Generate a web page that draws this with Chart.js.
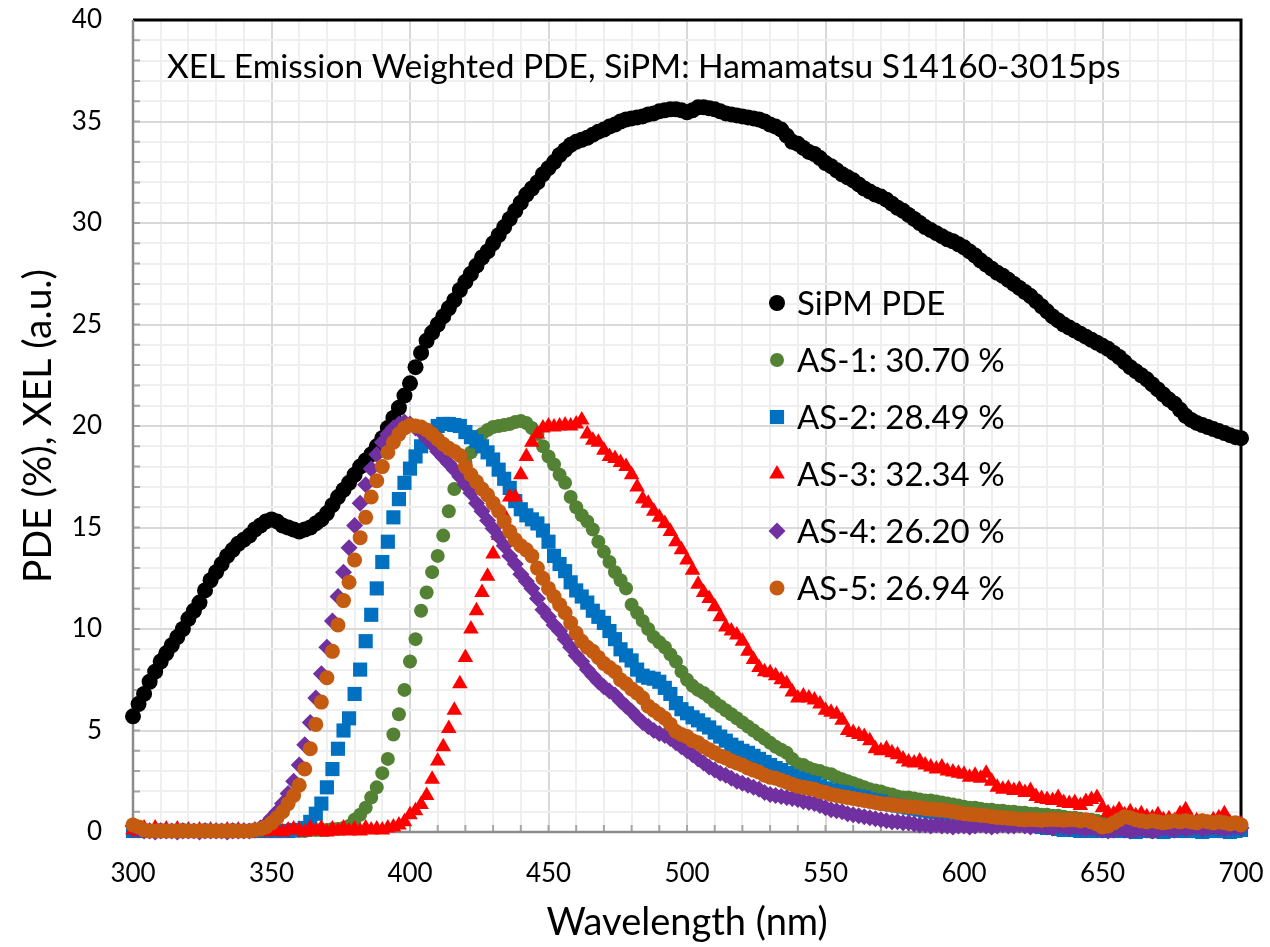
<!DOCTYPE html>
<html>
<head>
<meta charset="utf-8">
<title>XEL Emission Weighted PDE</title>
<script src="https://cdn.jsdelivr.net/npm/chart.js@4.4.0/dist/chart.umd.min.js"></script>
<style>
    html, body { margin: 0; padding: 0; background: #fff; }
    #wrap { width: 1270px; height: 947px; }
</style>
</head>
<body>
<div id="wrap"><canvas id="pdeChart" width="1270" height="947"></canvas></div>
<script>
// 波长网格 (nm)，每 2 nm 一个点
const wavelengths = [];
for (let nm = 300; nm <= 700; nm += 2) wavelengths.push(nm);

const xTickLabels = [300, 350, 400, 450, 500, 550, 600, 650, 700];
const yTickLabels = [0, 5, 10, 15, 20, 25, 30, 35, 40];

const seriesNames = ['SiPM PDE', 'AS-1: 30.70 %', 'AS-2: 28.49 %', 'AS-3: 32.34 %', 'AS-4: 26.20 %', 'AS-5: 26.94 %'];

// SiPM PDE (%)
const sipmPDE = [
    5.7, 6.3, 6.8, 7.4, 7.9, 8.4, 8.8, 9.2, 9.6, 10.0,
    10.5, 10.9, 11.3, 11.9, 12.4, 12.8, 13.2, 13.6, 13.9, 14.2,
    14.4, 14.6, 14.9, 15.1, 15.3, 15.4, 15.3, 15.1, 15.0, 14.9,
    14.8, 14.9, 15.0, 15.2, 15.4, 15.7, 16.1, 16.5, 16.85, 17.2,
    17.6, 18.0, 18.3, 18.6, 19.0, 19.4, 19.9, 20.4, 20.9, 21.5,
    22.1, 22.9, 23.6, 24.2, 24.6, 25.0, 25.4, 25.8, 26.2, 26.7,
    27.1, 27.5, 27.9, 28.3, 28.6, 29.0, 29.4, 29.8, 30.2, 30.6,
    31.0, 31.4, 31.7, 32.0, 32.4, 32.7, 33.0, 33.35, 33.6, 33.85,
    34.0, 34.1, 34.2, 34.35, 34.5, 34.6, 34.75, 34.85, 35.0, 35.1,
    35.15, 35.2, 35.25, 35.35, 35.4, 35.5, 35.55, 35.6, 35.6, 35.55,
    35.45, 35.55, 35.7, 35.7, 35.65, 35.6, 35.5, 35.4, 35.35, 35.3,
    35.25, 35.2, 35.15, 35.1, 35.0, 34.85, 34.75, 34.6, 34.3, 34.0,
    33.9, 33.7, 33.5, 33.4, 33.2, 32.95, 32.8, 32.6, 32.4, 32.25,
    32.1, 31.9, 31.7, 31.55, 31.4, 31.3, 31.15, 30.95, 30.75, 30.6,
    30.4, 30.2, 30.0, 29.8, 29.65, 29.5, 29.35, 29.2, 29.1, 28.95,
    28.8, 28.6, 28.4, 28.15, 27.95, 27.75, 27.55, 27.4, 27.2, 27.0,
    26.8, 26.6, 26.4, 26.15, 25.9, 25.65, 25.4, 25.2, 25.0, 24.85,
    24.7, 24.55, 24.4, 24.25, 24.1, 23.95, 23.8, 23.6, 23.4, 23.15,
    22.9, 22.7, 22.5, 22.3, 22.05, 21.8, 21.55, 21.3, 21.1, 20.8,
    20.5, 20.3, 20.15, 20.05, 19.95, 19.85, 19.75, 19.65, 19.55, 19.45,
    19.4
];

// AS-1 XEL (a.u.)
const as1 = [
    0.05, 0.05, 0.1, 0.05, 0.05, 0.1, 0.05, 0.05, 0.05, 0.1,
    0.05, 0.05, 0.05, 0.1, 0.05, 0.05, 0.05, 0.05, 0.1, 0.05,
    0.05, 0.05, 0.05, 0.05, 0.1, 0.05, 0.05, 0.05, 0.05, 0.05,
    0.05, 0.05, 0.1, 0.1, 0.1, 0.1, 0.15, 0.15, 0.2, 0.3,
    0.6, 0.85, 1.2, 1.7, 2.2, 2.9, 3.6, 4.8, 5.8, 7.0,
    8.4, 9.5, 10.9, 11.8, 12.8, 13.6, 14.6, 15.8, 16.9, 17.6,
    18.2, 18.7, 19.2, 19.6, 19.8, 19.95, 20.0, 20.05, 20.1, 20.2,
    20.25, 20.15, 19.9, 19.6, 19.0, 18.5, 18.1, 17.6, 17.2, 16.5,
    16.0, 15.6, 15.3, 14.9, 14.3, 13.8, 13.3, 12.8, 12.4, 12.0,
    11.2, 10.8, 10.4, 10.0, 9.6, 9.35, 9.1, 8.75, 8.4, 7.9,
    7.5, 7.2, 7.0, 6.85, 6.65, 6.4, 6.2, 6.0, 5.8, 5.6,
    5.4, 5.2, 5.0, 4.8, 4.6, 4.4, 4.2, 4.05, 3.9, 3.6,
    3.35, 3.3, 3.15, 3.05, 3.0, 2.9, 2.85, 2.7, 2.6, 2.5,
    2.4, 2.3, 2.2, 2.1, 2.05, 2.0, 1.9, 1.85, 1.75, 1.7,
    1.7, 1.65, 1.6, 1.55, 1.55, 1.5, 1.45, 1.4, 1.35, 1.3,
    1.25, 1.2, 1.2, 1.15, 1.1, 1.1, 1.05, 1.05, 1.0, 1.0,
    0.95, 0.95, 0.9, 0.9, 0.85, 0.85, 0.8, 0.8, 0.75, 0.7,
    0.7, 0.65, 0.6, 0.6, 0.55, 0.5, 0.45, 0.5, 0.4, 0.45,
    0.4, 0.35, 0.3, 0.1, 0.0, 0.3, 0.35, 0.3, 0.25, 0.3,
    0.3, 0.25, 0.3, 0.2, 0.25, 0.3, 0.2, 0.25, 0.3, 0.25,
    0.3
];

// AS-2 XEL (a.u.)
const as2 = [
    0.05, 0.05, 0.05, 0.05, 0.05, 0.05, 0.05, 0.05, 0.05, 0.05,
    0.05, 0.05, 0.05, 0.05, 0.05, 0.05, 0.05, 0.05, 0.05, 0.05,
    0.05, 0.05, 0.05, 0.05, 0.05, 0.05, 0.05, 0.05, 0.05, 0.1,
    0.1, 0.2, 0.5, 0.9, 1.4, 2.2, 3.1, 4.1, 5.0, 5.6,
    6.8, 8.0, 9.4, 10.7, 12.0, 13.3, 14.3, 15.5, 16.4, 17.2,
    17.9, 18.5, 19.0, 19.4, 19.7, 20.0, 20.1, 20.1, 20.05, 20.0,
    19.7, 19.45, 19.25, 19.0, 18.7, 18.35, 17.85, 17.4, 16.95, 16.3,
    15.9, 15.6, 15.4, 15.2, 14.85, 14.3, 13.6, 13.2, 12.85, 12.3,
    11.9, 11.6, 11.3, 10.9, 10.6, 10.3, 9.9, 9.5, 9.0, 8.7,
    8.45, 8.0, 7.7, 7.6, 7.55, 7.4, 7.1, 6.8, 6.35, 6.05,
    5.85, 5.65, 5.5, 5.3, 5.15, 4.9, 4.7, 4.5, 4.3, 4.15,
    4.0, 3.9, 3.75, 3.6, 3.45, 3.3, 3.15, 3.05, 2.9, 2.75,
    2.65, 2.55, 2.45, 2.4, 2.25, 2.15, 2.05, 2.0, 1.95, 1.9,
    1.8, 1.75, 1.7, 1.6, 1.55, 1.5, 1.4, 1.35, 1.3, 1.25,
    1.2, 1.15, 1.1, 1.05, 1.0, 1.0, 0.95, 0.95, 0.9, 0.9,
    0.85, 0.8, 0.8, 0.75, 0.7, 0.65, 0.6, 0.55, 0.5, 0.45,
    0.45, 0.4, 0.35, 0.3, 0.25, 0.2, 0.2, 0.15, 0.1, 0.1,
    0.1, 0.05, 0.1, 0.05, 0.05, 0.1, 0.05, 0.05, 0.1, 0.05,
    0.05, 0.0, 0.05, 0.1, 0.05, 0.05, 0.0, 0.05, 0.1, 0.05,
    0.05, 0.1, 0.05, 0.0, 0.05, 0.1, 0.05, 0.05, 0.0, 0.05,
    0.1
];

// AS-3 XEL (a.u.)
const as3 = [
    0.1, 0.0, 0.2, 0.05, 0.2, 0.05, 0.15, 0.0, 0.15, 0.05,
    0.1, 0.0, 0.1, 0.05, 0.1, 0.05, 0.0, 0.1, 0.05, 0.1,
    0.05, 0.0, 0.1, 0.05, 0.0, 0.1, 0.05, 0.0, 0.1, 0.15,
    0.1, 0.0, 0.2, 0.05, 0.2, 0.0, 0.15, 0.05, 0.2, 0.05,
    0.15, 0.05, 0.2, 0.1, 0.15, 0.1, 0.2, 0.25, 0.35, 0.5,
    0.85, 1.05, 1.35, 1.8, 2.6, 3.5, 4.2, 5.1, 6.0, 7.3,
    8.6, 10.0, 10.9, 11.8, 12.6, 13.7, 14.6, 15.6, 16.5, 16.5,
    17.6, 18.5, 19.2, 19.6, 19.9, 20.0, 19.95, 20.0, 20.05, 20.0,
    20.1, 20.3, 19.6, 19.3, 19.2, 18.8, 18.5, 18.4, 18.2, 18.0,
    17.6, 17.0, 16.4, 16.2, 15.8, 15.5, 15.2, 14.8, 14.3, 13.9,
    13.4, 12.9, 12.2, 11.8, 11.5, 11.1, 10.6, 10.1, 9.9, 9.7,
    9.4, 8.9, 8.5, 8.1, 7.9, 7.85, 7.7, 7.5, 7.3, 6.9,
    6.6, 6.7, 6.6, 6.5, 6.3, 6.0, 5.9, 5.8, 5.5, 5.0,
    4.9, 4.8, 4.7, 4.5, 4.1, 4.0, 4.1, 3.9, 3.8, 3.6,
    3.45, 3.4, 3.5, 3.3, 3.2, 3.1, 3.2, 3.0, 2.95, 2.9,
    2.85, 2.7, 2.8, 2.65, 2.9, 2.5, 2.2, 2.1, 2.15, 2.05,
    2.1, 1.95, 2.05, 1.75, 1.65, 1.6, 1.55, 1.7, 1.45, 1.4,
    1.45, 1.3, 1.5, 1.6, 1.7, 1.2, 0.95, 0.9, 1.1, 0.85,
    1.0, 0.8, 0.9, 0.75, 0.7, 0.85, 0.6, 0.65, 0.55, 0.9,
    1.1, 0.6, 0.55, 0.5, 0.45, 0.6, 0.7, 0.9, 0.45, 0.3,
    0.4
];

// AS-4 XEL (a.u.)
const as4 = [
    0.3, 0.15, 0.05, 0.05, 0.0, 0.05, 0.05, 0.05, 0.0, 0.05,
    0.05, 0.05, 0.0, 0.05, 0.05, 0.05, 0.05, 0.0, 0.05, 0.05,
    0.05, 0.05, 0.1, 0.2, 0.4, 0.7, 1.0, 1.4, 1.9, 2.5,
    3.3, 4.3, 5.4, 6.6, 7.8, 9.1, 10.4, 11.6, 12.8, 14.0,
    15.1, 16.2, 17.1, 17.9, 18.6, 19.2, 19.6, 19.9, 20.1, 20.2,
    20.1, 19.9, 19.7, 19.4, 19.1, 18.75, 18.45, 18.15, 17.85, 17.5,
    17.1, 16.7, 16.2, 15.8, 15.35, 14.95, 14.55, 14.1, 13.6, 13.2,
    12.7, 12.35, 12.0, 11.5, 10.95, 10.6, 10.2, 9.9, 9.5, 9.1,
    8.7, 8.4, 8.0, 7.7, 7.4, 7.15, 6.95, 6.75, 6.45, 6.2,
    5.95, 5.65, 5.4, 5.2, 5.0, 4.85, 4.75, 4.6, 4.4, 4.2,
    4.0, 3.8, 3.6, 3.4, 3.2, 3.05, 2.9, 2.8, 2.65, 2.5,
    2.4, 2.3, 2.2, 2.1, 1.95, 1.85, 1.8, 1.75, 1.7, 1.65,
    1.6, 1.5, 1.45, 1.4, 1.3, 1.2, 1.1, 1.05, 1.0, 0.9,
    0.85, 0.8, 0.75, 0.7, 0.65, 0.6, 0.55, 0.5, 0.5, 0.45,
    0.45, 0.4, 0.35, 0.35, 0.3, 0.35, 0.3, 0.3, 0.25, 0.3,
    0.3, 0.25, 0.3, 0.35, 0.3, 0.25, 0.3, 0.35, 0.3, 0.3,
    0.35, 0.3, 0.25, 0.3, 0.3, 0.25, 0.2, 0.3, 0.25, 0.2,
    0.25, 0.2, 0.15, 0.2, 0.15, 0.1, 0.05, 0.1, 0.15, 0.1,
    0.05, 0.1, 0.15, 0.1, 0.05, 0.1, 0.2, 0.15, 0.1, 0.2,
    0.15, 0.2, 0.25, 0.15, 0.2, 0.25, 0.2, 0.15, 0.2, 0.25,
    0.2
];

// AS-5 XEL (a.u.)
const as5 = [
    0.35, 0.25, 0.1, 0.05, 0.05, 0.05, 0.05, 0.05, 0.05, 0.05,
    0.05, 0.05, 0.05, 0.05, 0.05, 0.05, 0.05, 0.05, 0.05, 0.05,
    0.05, 0.05, 0.1, 0.15, 0.25, 0.45, 0.7, 1.0, 1.4, 1.8,
    2.3, 3.1, 4.1, 5.3, 6.4, 7.6, 8.9, 10.2, 11.4, 12.3,
    13.4, 14.5, 15.5, 16.5, 17.3, 18.0, 18.7, 19.2, 19.6, 19.9,
    20.05, 20.0, 19.95, 19.8, 19.6, 19.35, 19.1, 18.9, 18.75, 18.55,
    18.0, 17.6, 17.25, 16.9, 16.6, 16.2, 15.8, 15.3, 14.8, 14.4,
    14.1, 13.9, 13.6, 13.0, 12.5, 12.0, 11.6, 11.2, 10.8, 10.3,
    9.8, 9.4, 9.1, 8.9, 8.6, 8.3, 8.1, 7.9, 7.5, 7.3,
    7.05, 6.85, 6.6, 6.2, 6.0, 5.8, 5.6, 5.3, 4.95, 4.8,
    4.7, 4.5, 4.4, 4.2, 4.05, 3.9, 3.75, 3.65, 3.5, 3.4,
    3.3, 3.15, 3.05, 2.95, 2.8, 2.7, 2.65, 2.55, 2.45, 2.35,
    2.25, 2.2, 2.15, 2.1, 2.0, 1.95, 1.85, 1.8, 1.75, 1.7,
    1.65, 1.6, 1.55, 1.5, 1.45, 1.4, 1.38, 1.35, 1.3, 1.28,
    1.25, 1.22, 1.2, 1.15, 1.12, 1.1, 1.08, 1.05, 1.0, 0.95,
    0.9, 0.88, 0.85, 0.82, 0.8, 0.75, 0.72, 0.7, 0.68, 0.65,
    0.62, 0.6, 0.62, 0.6, 0.58, 0.6, 0.62, 0.6, 0.58, 0.6,
    0.6, 0.55, 0.6, 0.5, 0.4, 0.25, 0.3, 0.45, 0.6, 0.75,
    0.7, 0.6, 0.55, 0.5, 0.55, 0.5, 0.45, 0.5, 0.55, 0.5,
    0.55, 0.5, 0.45, 0.55, 0.5, 0.45, 0.5, 0.45, 0.4, 0.45,
    0.35
];

const seriesValues = [sipmPDE, as1, as2, as3, as4, as5];

// 样式
const seriesStyle = [
    { color: '#000000', pointStyle: 'circle', radius: 8 },
    { color: '#548235', pointStyle: 'circle', radius: 7 },
    { color: '#0070C0', pointStyle: 'rect', radius: 10 },
    { color: '#FF0000', pointStyle: 'triangle', radius: 9 },
    { color: '#7030A0', pointStyle: 'rectRot', radius: 8.5 },
    { color: '#C55A11', pointStyle: 'circle', radius: 7.5 }
];

const FONT = 'Lato, "Liberation Sans", sans-serif';

// 画图例符号
function drawMarker(ctx, style, x, y, r) {
    if (Chart.helpers && Chart.helpers.drawPoint) {
        Chart.helpers.drawPoint(ctx, { pointStyle: style, radius: r, rotation: 0, borderWidth: 0 }, x, y);
        return;
    }
    ctx.beginPath();
    ctx.arc(x, y, r, 0, Math.PI * 2);
    ctx.fill();
}

// 去掉刻度标签带来的额外边距，让绘图区由 layout.padding 决定
function noEdgePadding(s) {
    s.paddingTop = 0;
    s.paddingBottom = 0;
    s.paddingLeft = 0;
    s.paddingRight = 0;
}

// 坐标框和刻度线
const framePlugin = {
    id: 'frame',
    beforeDatasetsDraw(chart) {
        const { ctx, chartArea: a, scales } = chart;
        ctx.save();
        ctx.strokeStyle = '#a6a6a6';
        ctx.lineWidth = 2;
        ctx.beginPath();
        scales.x.ticks.forEach(t => {
            const x = scales.x.getPixelForValue(t.value);
            ctx.moveTo(x, a.bottom);
            ctx.lineTo(x, a.bottom - 7);
        });
        scales.y.ticks.forEach(t => {
            const y = scales.y.getPixelForValue(t.value);
            ctx.moveTo(a.left, y);
            ctx.lineTo(a.left + 7, y);
        });
        ctx.stroke();

        ctx.strokeStyle = '#000';
        ctx.lineWidth = 3;
        ctx.beginPath();
        ctx.moveTo(a.left, a.top);
        ctx.lineTo(a.right, a.top);
        ctx.lineTo(a.right, a.bottom);
        ctx.stroke();

        ctx.strokeStyle = '#8c8c8c';
        ctx.lineWidth = 2.5;
        ctx.beginPath();
        ctx.moveTo(a.left, a.top);
        ctx.lineTo(a.left, a.bottom);
        ctx.lineTo(a.right, a.bottom);
        ctx.stroke();
        ctx.restore();
    }
};

// 图内标题和图例
const annotatePlugin = {
    id: 'annotate',
    afterDatasetsDraw(chart) {
        const ctx = chart.ctx;
        ctx.save();
        ctx.fillStyle = '#000';
        ctx.font = '33.5px ' + FONT;
        ctx.textBaseline = 'alphabetic';
        ctx.fillText('XEL Emission Weighted PDE, SiPM: Hamamatsu S14160-3015ps', 167, 78);

        ctx.font = '33px ' + FONT;
        ctx.textBaseline = 'middle';
        seriesNames.forEach((name, i) => {
            const y = 303 + i * 57;
            ctx.fillStyle = seriesStyle[i].color;
            drawMarker(ctx, seriesStyle[i].pointStyle, 777, y, seriesStyle[i].radius);
            ctx.fillStyle = '#000';
            ctx.fillText(name, 797, y + 1);
        });
        ctx.restore();
    }
};

function initChart() {
    const datasets = seriesValues.map((vals, i) => ({
        label: seriesNames[i],
        data: wavelengths.map((nm, k) => ({ x: nm, y: vals[k] })),
        showLine: false,
        pointStyle: seriesStyle[i].pointStyle,
        pointRadius: seriesStyle[i].radius,
        pointBackgroundColor: seriesStyle[i].color,
        pointBorderColor: seriesStyle[i].color,
        pointBorderWidth: 0,
        clip: false,
        order: seriesValues.length - i
    }));

    new Chart(document.getElementById('pdeChart'), {
        type: 'scatter',
        data: { datasets },
        options: {
            responsive: false,
            animation: false,
            events: [],
            layout: { padding: { top: 20, right: 29, left: 0, bottom: 0 } },
            plugins: {
                legend: { display: false },
                tooltip: { enabled: false }
            },
            scales: {
                x: {
                    type: 'linear',
                    min: 300,
                    max: 700,
                    afterFit: s => { s.height = 115; noEdgePadding(s); },
                    border: { display: false },
                    grid: {
                        color: c => (c.tick && c.tick.value % 50 === 0) ? '#d9d9d9' : '#efefef',
                        lineWidth: 2,
                        drawTicks: false
                    },
                    ticks: {
                        stepSize: 10,
                        autoSkip: false,
                        maxRotation: 0,
                        padding: 26,
                        color: '#000',
                        font: { family: FONT, size: 26 },
                        callback: v => xTickLabels.includes(v) ? String(v) : ''
                    },
                    title: {
                        display: true,
                        text: 'Wavelength (nm)',
                        color: '#000',
                        font: { family: FONT, size: 38 },
                        padding: { top: 0, bottom: 1 }
                    }
                },
                y: {
                    min: 0,
                    max: 40,
                    afterFit: s => { s.width = 133; noEdgePadding(s); },
                    border: { display: false },
                    grid: {
                        color: c => (c.tick && c.tick.value % 5 === 0) ? '#d9d9d9' : '#efefef',
                        lineWidth: 2,
                        drawTicks: false
                    },
                    ticks: {
                        stepSize: 1,
                        autoSkip: false,
                        padding: 31,
                        color: '#000',
                        font: { family: FONT, size: 26 },
                        callback: v => yTickLabels.includes(v) ? String(v) : ''
                    },
                    title: {
                        display: true,
                        text: 'PDE (%), XEL (a.u.)',
                        color: '#000',
                        font: { family: FONT, size: 39 },
                        padding: { top: 15, bottom: 0 }
                    }
                }
            }
        },
        plugins: [framePlugin, annotatePlugin]
    });
}

document.addEventListener('DOMContentLoaded', initChart);
</script>
</body>
</html>
